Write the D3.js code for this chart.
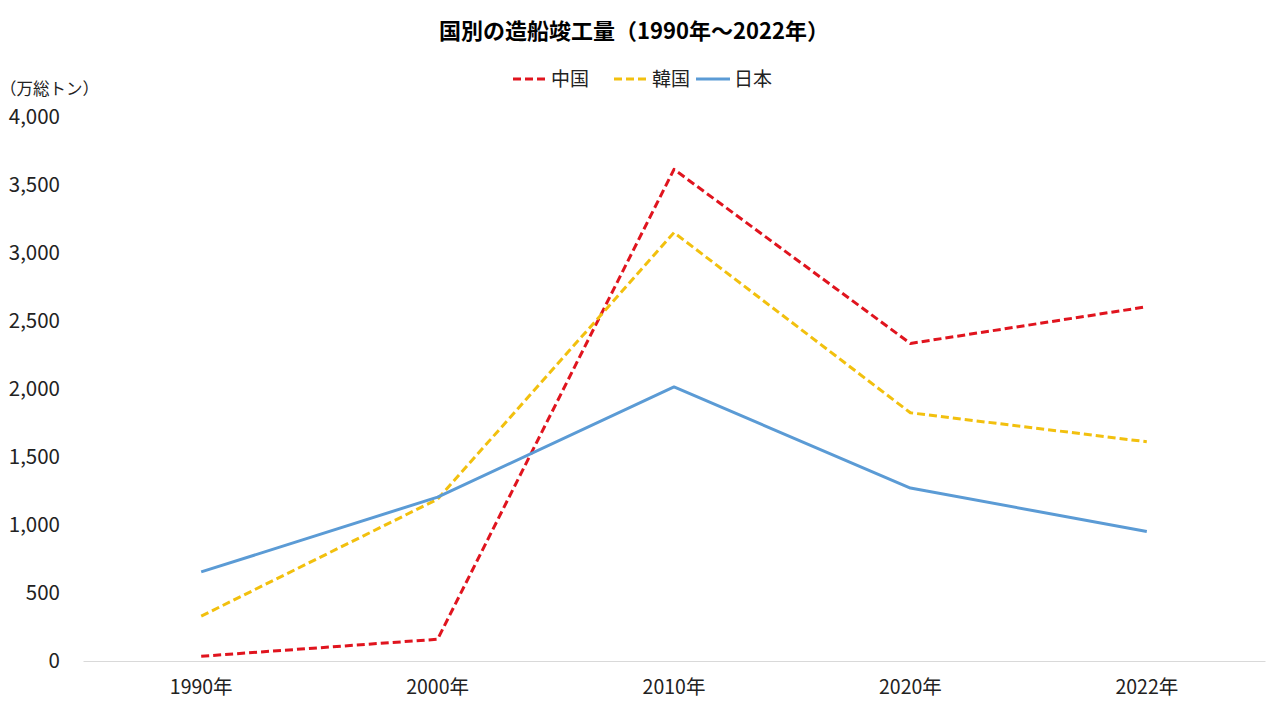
<!DOCTYPE html>
<html>
<head>
<meta charset="utf-8">
<script src="https://cdn.jsdelivr.net/npm/d3@7"></script>
<style>
  body { margin: 0; background: #fff; }
  text { font-family: "Noto Sans CJK JP", "Noto Sans", sans-serif; }
</style>
</head>
<body>
<div id="chart"></div>
<script>
// Data
const years = ["1990年", "2000年", "2010年", "2020年", "2022年"];
const china = [35, 160, 3615, 2335, 2605];
const korea = [330, 1190, 3150, 1825, 1612];
const japan = [655, 1205, 2015, 1272, 952];
const yTicks = [0, 500, 1000, 1500, 2000, 2500, 3000, 3500, 4000];

const series = [
    { name: "中国", values: china, color: "#e0141e", dash: "8,4" },
    { name: "韓国", values: korea, color: "#f2c00e", dash: "8,4" },
    { name: "日本", values: japan, color: "#5b9bd5", dash: null }
];

const width = 1280;
const height = 720;
const margin = { top: 117, right: 15, bottom: 59, left: 83 };

const svg = d3.select("#chart")
    .append("svg")
    .attr("width", width)
    .attr("height", height);

const x = d3.scaleBand()
    .domain(years)
    .range([margin.left, width - margin.right]);

const y = d3.scaleLinear()
    .domain([0, 4000])
    .range([height - margin.bottom, margin.top]);

// Title
svg.append("text")
    .attr("x", 634)
    .attr("y", 39)
    .attr("text-anchor", "middle")
    .attr("font-size", "22px")
    .attr("font-weight", "bold")
    .attr("fill", "#000")
    .text("国別の造船竣工量（1990年～2022年）");

// Unit label
svg.append("text")
    .attr("x", 0)
    .attr("y", 95)
    .attr("font-size", "16.5px")
    .attr("fill", "#222")
    .text("（万総トン）");

// Y axis (labels only)
const yAxis = svg.append("g")
    .attr("transform", `translate(${margin.left - 20},0)`)
    .call(d3.axisLeft(y).tickValues(yTicks).tickSize(0).tickFormat(d3.format(",")));
yAxis.select(".domain").remove();
yAxis.selectAll("text")
    .attr("font-size", "20.5px")
    .attr("fill", "#222");

// X axis
const xAxis = svg.append("g")
    .attr("transform", `translate(0,${height - margin.bottom})`)
    .call(d3.axisBottom(x).tickSize(0));
xAxis.select(".domain").attr("stroke", "#d9d9d9").attr("stroke-width", 1.2);
xAxis.selectAll("text")
    .attr("font-size", "19.5px")
    .attr("fill", "#222")
    .attr("dy", "1.55em");

// Lines
const line = d3.line()
    .x((d, i) => x(years[i]) + x.bandwidth() / 2)
    .y(d => y(d));

svg.selectAll("path.series")
    .data(series)
    .enter()
    .append("path")
    .attr("class", "series")
    .attr("d", d => line(d.values))
    .attr("fill", "none")
    .attr("stroke", d => d.color)
    .attr("stroke-width", 3)
    .attr("stroke-dasharray", d => d.dash)
    .attr("stroke-linejoin", "round");

// Legend
const legendX = [513, 614, 696];
const legend = svg.selectAll("g.legend")
    .data(series)
    .enter()
    .append("g")
    .attr("class", "legend")
    .attr("transform", (d, i) => `translate(${legendX[i]},79)`);

legend.append("line")
    .attr("x1", 0)
    .attr("x2", 34)
    .attr("stroke", d => d.color)
    .attr("stroke-width", 3)
    .attr("stroke-dasharray", d => d.dash);

legend.append("text")
    .attr("x", 38)
    .attr("y", 7)
    .attr("font-size", "19px")
    .attr("fill", "#222")
    .text(d => d.name);
</script>
</body>
</html>
